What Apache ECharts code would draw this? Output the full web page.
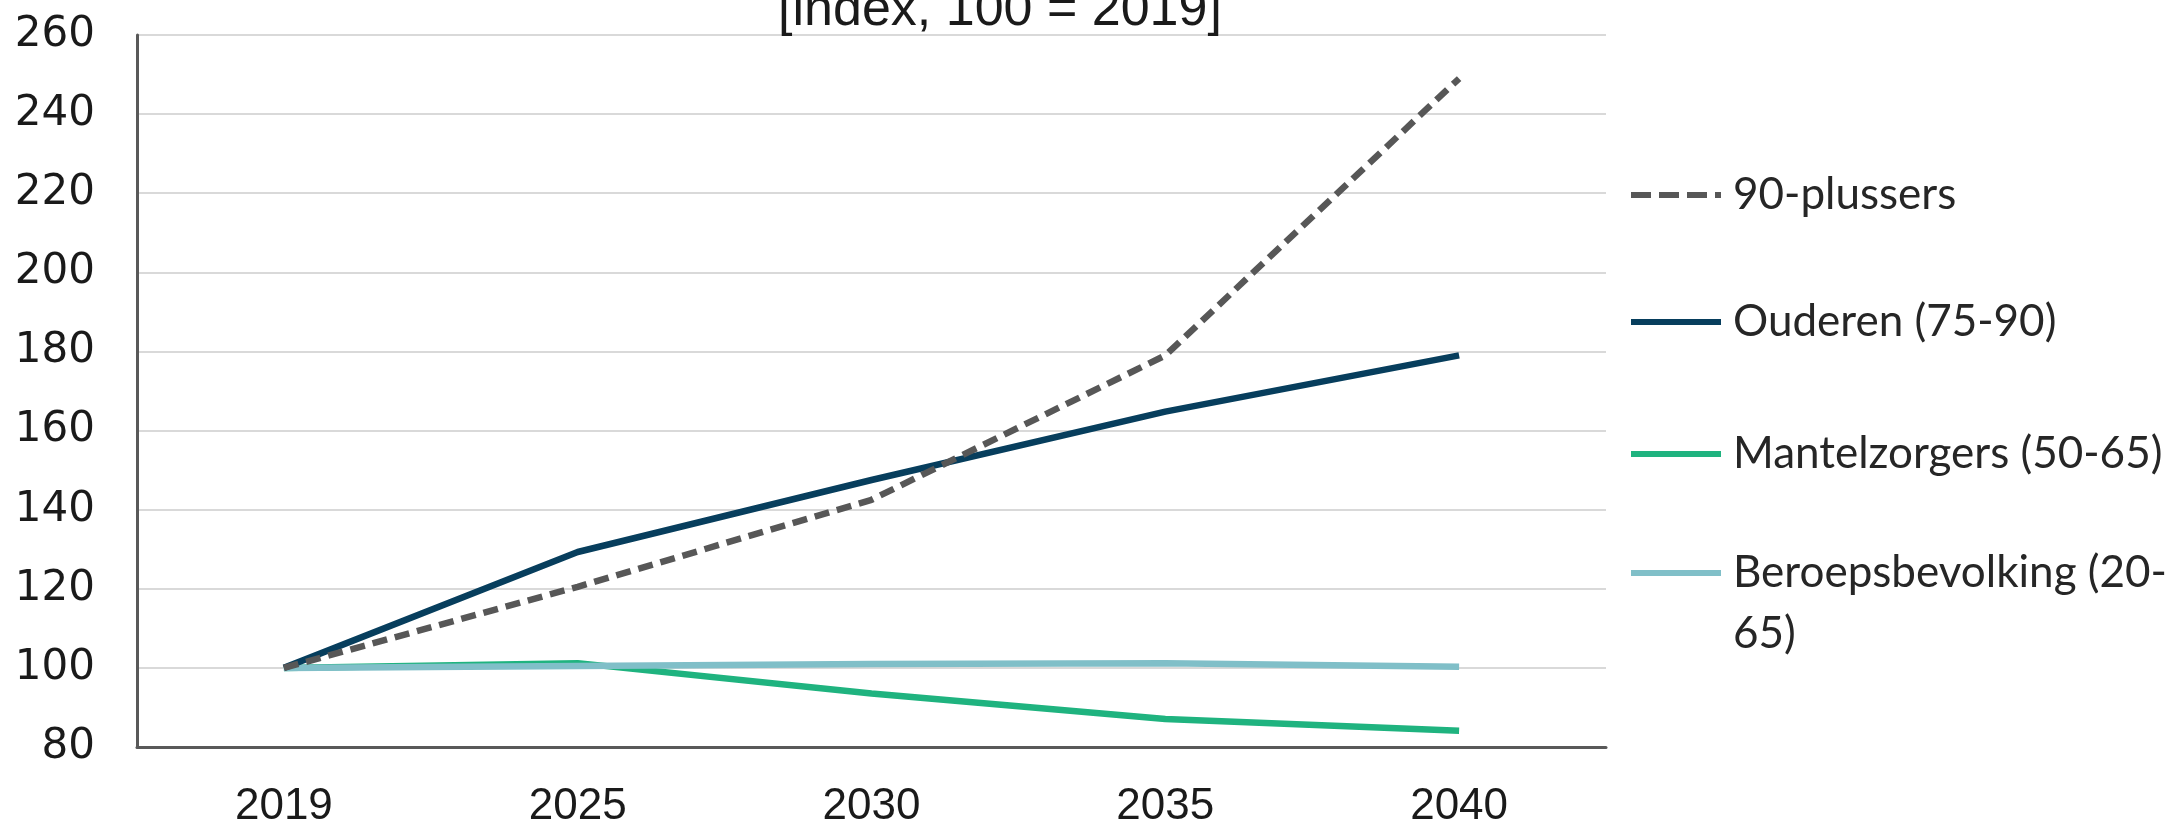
<!DOCTYPE html>
<html>
<head>
<meta charset="utf-8">
<script src="https://cdn.jsdelivr.net/npm/echarts@6/dist/echarts.min.js"></script>
<style>html,body{margin:0;padding:0;background:#fff;}#c{width:2177px;height:829px;}</style>
</head>
<body>
<div id="c"></div>
<script>
const years = ['2019', '2025', '2030', '2035', '2040'];
const plus90 = [100, 120.5, 142.5, 179, 249];
const ouderen = [100, 129.3, 147.5, 164.8, 179];
const mantelzorgers = [100, 101.2, 93.5, 87.1, 84.1];
const beroeps = [100, 100.5, 101, 101.2, 100.3];
const yTicks = {min: 80, max: 260, interval: 20};
const title = '[index, 100 = 2019]';

const chart = echarts.init(document.getElementById('c'), null, {renderer: 'canvas'});
const legendFont = {fontFamily: 'Lato', fontSize: 44, color: '#262626', lineHeight: 40, padding: [0, 0, 0, 7]};
const solidIcon = 'path://M0,0h90v6h-90z';
const dashIcon = 'path://M0,0h20v6h-20z M28,0h20v6h-20z M56,0h20v6h-20z M84,0h6v6h-6z';
function leg(name, top, icon, extra) {
  return Object.assign({
    data: [name], left: 1631, top: top, orient: 'vertical', padding: 0,
    itemWidth: 90, itemHeight: 6, selectedMode: false, icon: icon,
    textStyle: Object.assign({}, legendFont)
  }, extra || {});
}
chart.setOption({
  animation: false,
  backgroundColor: '#ffffff',
  title: {
    text: title, left: 1000, textAlign: 'center', top: -15, padding: 0,
    textStyle: {fontFamily: 'Liberation Sans', fontSize: 52, fontWeight: 'normal', color: '#1a1a1a', lineHeight: 52}
  },
  grid: {left: 137, right: 571, top: 35, bottom: 78, containLabel: false},
  legend: [
    leg('90-plussers', 193 - 20, dashIcon),
    leg('Ouderen (75-90)', 320 - 20, solidIcon),
    leg('Mantelzorgers (50-65)', 452 - 20, solidIcon),
    leg('Beroepsbevolking (20-65)', 573 - 91.5, solidIcon, {
      formatter: function () { return '\nBeroepsbevolking (20-\n65)'; },
      textStyle: Object.assign({}, legendFont, {lineHeight: 61})
    })
  ],
  xAxis: {
    type: 'category', data: years, boundaryGap: true,
    axisLine: {show: true, lineStyle: {color: '#595959', width: 3}},
    axisTick: {show: false},
    axisLabel: {margin: 38, fontFamily: 'Liberation Sans', fontSize: 44, color: '#1a1a1a'},
    splitLine: {show: false}
  },
  yAxis: {
    type: 'value', min: yTicks.min, max: yTicks.max, interval: yTicks.interval,
    axisLine: {show: true, lineStyle: {color: '#595959', width: 3}},
    axisTick: {show: false},
    axisLabel: {margin: 42, fontFamily: 'DejaVu Sans', fontSize: 42, color: '#1a1a1a'},
    splitLine: {show: true, lineStyle: {color: '#d9d9d9', width: 2}}
  },
  series: [
    {name: 'Mantelzorgers (50-65)', type: 'line', data: mantelzorgers, symbol: 'none', z: 2,
     lineStyle: {color: '#1fb37f', width: 6.5}, itemStyle: {color: '#1fb37f'}},
    {name: 'Beroepsbevolking (20-65)', type: 'line', data: beroeps, symbol: 'none', z: 3,
     lineStyle: {color: '#80bfc8', width: 6.5}, itemStyle: {color: '#80bfc8'}},
    {name: 'Ouderen (75-90)', type: 'line', data: ouderen, symbol: 'none', z: 4,
     lineStyle: {color: '#073e5d', width: 6.5}, itemStyle: {color: '#073e5d'}},
    {name: '90-plussers', type: 'line', data: plus90, symbol: 'none', z: 5,
     lineStyle: {color: '#575757', width: 6.5, type: [15, 8]}, itemStyle: {color: '#575757'}}
  ]
});
</script>
</body>
</html>
